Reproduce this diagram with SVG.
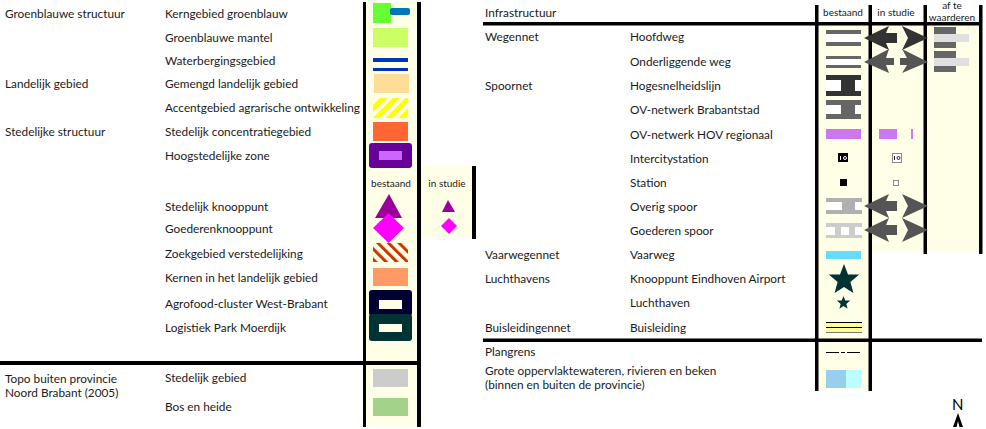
<svg xmlns="http://www.w3.org/2000/svg" width="986" height="429" viewBox="0 0 986 429">
<style>
text{font-family:"Lato","Liberation Sans",sans-serif;font-size:11.8px;fill:#1a1a1a}
.h{font-size:10px;text-anchor:middle}
.c{fill:#ffffe8}
.b{fill:#000}
.w{fill:#fff}
</style>
<defs>
<pattern id="yh" width="9" height="9" patternUnits="userSpaceOnUse" patternTransform="rotate(45 373 98)">
<rect width="9" height="9" fill="#ffffe8"/><rect width="5" height="9" fill="#ffff00"/></pattern>
<pattern id="rh" width="7.500" height="7.500" patternUnits="userSpaceOnUse" patternTransform="rotate(-45 373 243)">
<rect width="7.500" height="7.500" fill="#ffffe8"/><rect width="3" height="7.500" fill="#cc3300"/></pattern>
<path id="al" d="M864 38L889 26L886 33H897V43H886L889 50Z"/>
<path id="ar" d="M928 38L902 26L908 38L902 50Z"/>
<path id="al2" d="M864 62L889 49L886 58H894V65H886L889 73Z"/>
<path id="ar2" d="M928 62L902 49L907 58H900V65H907L902 73Z"/>
<path id="st" d="M0 -16L4 -5.500H15.200L6.400 2L9.400 13L0 7L-9.400 13L-6.400 2L-15.200 -5.500H-4Z"/>
</defs>
<rect width="986" height="429" fill="#fff"/>
<g id="kolommen">
<rect class="c" x="365" y="2" width="53" height="424"/>
<rect class="c" x="420" y="166" width="53" height="72"/>
<rect class="c" x="818" y="25" width="52" height="365"/>
<rect class="c" x="872" y="25" width="53" height="227"/>
<rect class="c" x="927" y="25" width="53" height="227"/>
</g>
<g id="lijnen" fill="#000">
<rect x="363" y="2" width="3" height="425"/>
<rect x="417" y="2" width="4" height="425"/>
<rect x="472" y="166" width="4" height="73"/>
<rect x="0" y="361" width="419" height="4"/>
<rect x="483" y="22" width="499" height="3.500"/>
<rect x="815" y="5" width="3.500" height="386"/>
<rect x="868.500" y="5" width="3.500" height="386"/>
<rect x="923.500" y="5" width="3.500" height="249"/>
<rect x="979" y="5" width="3.500" height="249"/>
<rect x="483" y="338.500" width="499" height="3.500"/>
</g>
<g id="kerngebied"><rect x="373" y="3" width="18" height="20" fill="#66ff33"/><rect x="390" y="8" width="20" height="7" rx="2" fill="#0077bb"/><text x="165" y="18">Kerngebied groenblauw</text><text x="5" y="18">Groenblauwe structuur</text></g>
<g id="mantel"><rect x="373" y="28" width="35" height="19" fill="#ccff66"/><text x="165" y="42">Groenblauwe mantel</text></g>
<g id="waterberging"><rect x="373" y="58" width="35" height="4" fill="#0033bb"/><rect x="373" y="68" width="35" height="3" fill="#0033bb"/><text x="165" y="65">Waterbergingsgebied</text></g>
<g id="gemengd"><rect x="374" y="74" width="35" height="19" fill="#ffdd99"/><text x="165" y="88">Gemengd landelijk gebied</text><text x="5" y="88">Landelijk gebied</text></g>
<g id="accent"><rect x="373" y="98" width="35" height="20" fill="url(#yh)"/><text x="165" y="112">Accentgebied agrarische ontwikkeling</text></g>
<g id="concentratie"><rect x="373" y="122" width="35" height="19" fill="#ff6633"/><text x="165" y="136">Stedelijk concentratiegebied</text><text x="5" y="136">Stedelijke structuur</text></g>
<g id="hoogstedelijk"><rect x="369" y="143" width="43" height="25" rx="3" fill="#660099"/><rect x="379" y="151" width="23" height="9" fill="#cc66ff"/><text x="165" y="160">Hoogstedelijke zone</text></g>
<g id="kop-bestaand-links"><text class="h" x="391" y="187">bestaand</text></g>
<g id="kop-studie-links"><text class="h" x="447" y="187">in studie</text></g>
<g id="knooppunt"><path d="M389 194L402 218H375Z" fill="#990099"/><path d="M448 200L455 212H442Z" fill="#990099"/><text x="165" y="211">Stedelijk knooppunt</text></g>
<g id="goederen"><path d="M388.500 213L404 228L388.500 243L373 228Z" fill="#ff00ff"/><path d="M449 218L457 226L449 234L441 226Z" fill="#ff00ff"/><text x="165" y="233">Goederenknooppunt</text></g>
<g id="zoekgebied"><rect x="373" y="243" width="35" height="19" fill="url(#rh)"/><text x="165" y="258">Zoekgebied verstedelijking</text></g>
<g id="kernen"><rect x="373" y="268" width="35" height="18" fill="#ff9966"/><text x="165" y="282">Kernen in het landelijk gebied</text></g>
<g id="agrofood"><rect x="369" y="290" width="43" height="26" rx="3" fill="#000033"/><rect x="379" y="300" width="23" height="9" class="c"/><text x="165" y="308">Agrofood-cluster West-Brabant</text></g>
<g id="logistiek"><rect x="369" y="314" width="43" height="27" rx="3" fill="#003333"/><rect x="379" y="324" width="23" height="8" class="c"/><text x="165" y="332">Logistiek Park Moerdijk</text></g>
<g id="stedelijk-gebied"><rect x="373" y="369" width="35" height="18" fill="#ccc"/><text x="165" y="382">Stedelijk gebied</text><text x="5" y="383">Topo buiten provincie</text><text x="5" y="397">Noord Brabant (2005)</text></g>
<g id="bos"><rect x="373" y="398" width="35" height="18" fill="#a3d28a"/><text x="165" y="411">Bos en heide</text></g>
<g id="infrastructuur"><text x="485" y="17">Infrastructuur</text><text class="h" x="843" y="16">bestaand</text><text class="h" x="896" y="16">in studie</text><text class="h" x="952" y="9">af te</text><text class="h" x="952" y="21">waarderen</text></g>
<g id="hoofdweg"><rect x="826" y="30" width="35" height="16" fill="#666"/><rect class="w" x="826" y="34" width="35" height="8"/><use href="#al" fill="#333"/><use href="#ar" fill="#333"/><rect x="934" y="27" width="22" height="21" fill="#666"/><rect x="934" y="34" width="35" height="8" fill="#e0e0e0"/><text x="485" y="41">Wegennet</text><text x="630" y="41">Hoofdweg</text></g>
<g id="onderliggend"><rect x="826" y="56" width="35" height="12" fill="#666"/><rect class="w" x="826" y="59" width="35" height="6"/><use href="#al2" fill="#555"/><use href="#ar2" fill="#555"/><rect x="934" y="51" width="22" height="21" fill="#666"/><rect x="934" y="58" width="35" height="8" fill="#e0e0e0"/><text x="630" y="66">Onderliggende weg</text></g>
<g id="hogesnelheid"><rect x="826" y="75" width="35" height="21" fill="#333"/><rect class="w" x="826" y="80" width="15" height="11"/><rect class="w" x="855" y="80" width="6" height="11"/><text x="485" y="90">Spoornet</text><text x="630" y="90">Hogesnelheidslijn</text></g>
<g id="brabantstad"><rect x="826" y="100" width="35" height="19" fill="#666"/><rect class="w" x="826" y="105" width="15" height="9"/><rect class="w" x="855" y="105" width="6" height="9"/><text x="630" y="114">OV-netwerk Brabantstad</text></g>
<g id="hov"><rect x="826" y="129" width="35" height="10" fill="#cc77ee"/><rect x="879" y="129" width="18" height="10" fill="#cc77ee"/><rect x="911" y="129" width="2" height="10" fill="#cc77ee"/><text x="630" y="139">OV-netwerk HOV regionaal</text></g>
<g id="intercity"><rect class="b" x="838" y="153" width="10" height="9"/><rect class="w" x="840" y="156" width="1" height="4"/><circle cx="845" cy="158" r="1.500" fill="none" stroke="#fff"/><rect class="w" x="892.500" y="153.500" width="9" height="9" stroke="#888"/><rect x="894" y="156" width="1" height="4" fill="#222"/><circle cx="898.500" cy="158" r="1.500" fill="none" stroke="#222"/><text x="630" y="163">Intercitystation</text></g>
<g id="station"><rect class="b" x="840" y="179" width="7" height="7"/><rect class="w" x="893.500" y="180.500" width="5" height="5" stroke="#888"/><text x="630" y="187">Station</text></g>
<g id="overig"><rect x="826" y="198" width="36" height="16" fill="#b0b0b0"/><rect class="w" x="826" y="202" width="16" height="8"/><rect class="w" x="855" y="202" width="7" height="8"/><use href="#al" y="168" fill="#555"/><use href="#ar" y="168" fill="#555"/><text x="630" y="211">Overig spoor</text></g>
<g id="goederenspoor"><rect x="826" y="223" width="36" height="15" fill="#ccc"/><rect class="w" x="826" y="227" width="9" height="8"/><rect class="w" x="841" y="227" width="8" height="8"/><rect class="w" x="855" y="227" width="7" height="8"/><use href="#al" y="192" fill="#555"/><use href="#ar" y="192" fill="#555"/><text x="630" y="235">Goederen spoor</text></g>
<g id="vaarweg"><rect x="826" y="251" width="35" height="8" fill="#66ddff"/><text x="485" y="259">Vaarwegennet</text><text x="630" y="259">Vaarweg</text></g>
<g id="eindhoven"><use href="#st" x="844" y="280" fill="#003333"/><text x="485" y="283">Luchthavens</text><text x="630" y="283">Knooppunt Eindhoven Airport</text></g>
<g id="luchthaven"><use href="#st" transform="translate(843.500 303) scale(.44)" fill="#003333"/><text x="630" y="307">Luchthaven</text></g>
<g id="buisleiding"><rect x="826" y="322" width="36" height="11" fill="#ffff99"/><rect class="b" x="826" y="322" width="36" height="1"/><rect class="b" x="826" y="327" width="36" height="1"/><rect x="826" y="332" width="36" height="1" fill="#777"/><text x="485" y="332">Buisleidingennet</text><text x="630" y="332">Buisleiding</text></g>
<g id="plangrens"><path d="M826 352.500H839M841 352.500H845M847 352.500H860" stroke="#000" fill="none"/><text x="485" y="356">Plangrens</text></g>
<g id="water"><rect x="826" y="370" width="20" height="18" fill="#99cfee"/><rect x="846" y="370" width="15" height="18" fill="#bbffff"/><text x="485" y="375">Grote oppervlaktewateren, rivieren en beken</text><text x="485" y="389">(binnen en buiten de provincie)</text></g>
<g id="noordpijl"><text x="952" y="410" style="font-size:15px;fill:#000">N</text><path d="M958 413L953 427H956.500L958 421L959.500 427H963Z" fill="#000"/></g>
</svg>
